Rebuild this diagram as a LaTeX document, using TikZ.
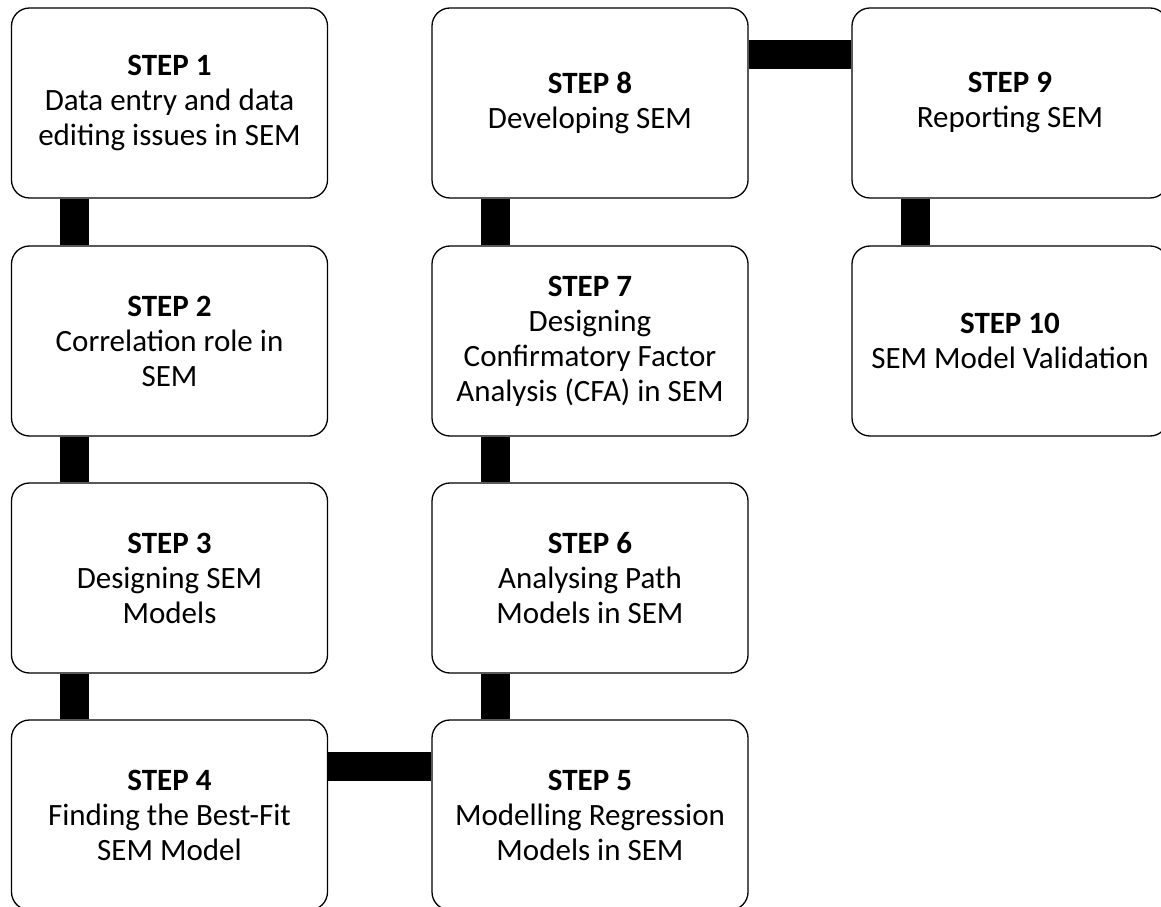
\documentclass[tikz,border=0pt]{standalone}
\usepackage{fontspec}
\setmainfont{Carlito}
\usepackage{tikz}
\usetikzlibrary{positioning}
\tikzset{
  blk/.style={
    rectangle, rounded corners=18pt,
    draw=black, fill=white, text=black,
    font=\fontsize{31}{35}\selectfont, align=center,
    inner sep=0pt, minimum width=316pt, minimum height=190pt,
    line width=1.3pt,
  },
  lnk/.style={
    line width=29pt, color=black,
  },
}
\begin{document}
\begin{tikzpicture}[x=1pt,y=1pt]
    \useasboundingbox (0,0) rectangle (1161,906);
    \foreach \n/\lbl/\x/\y in {1/{Data entry and data\\editing issues in SEM}/169.5/803,
                               2/{Correlation role in\\SEM}/169.5/565,
                               3/{Designing SEM\\Models}/169.5/328,
                               4/{Finding the Best-Fit\\SEM Model}/169.5/91,
                               5/{Modelling Regression\\Models in SEM}/590/91,
                               6/{Analysing Path\\Models in SEM}/590/328,
                               7/{Designing\\Confirmatory Factor\\Analysis (CFA) in SEM}/590/565,
                               8/{Developing SEM}/590/803,
                               9/{Reporting SEM}/1010/803,
                               10/{SEM Model Validation}/1010/565}{
      \node[blk] (s\n) at (\x,\y) {\textbf{STEP \n}\\\lbl};
    }
    % vertical links
    \foreach \a/\b in {1/2,2/3,3/4,6/5,7/6,8/7,9/10}
      \draw[lnk] ([xshift=64pt]s\a.south west) -- ([xshift=64pt]s\b.north west);
    % horizontal links
    \foreach \a/\b in {4/5,8/9}
      \draw[lnk] ([yshift=-47pt]s\a.north east) -- ([yshift=-47pt]s\b.north west);
  \end{tikzpicture}
\end{document}
